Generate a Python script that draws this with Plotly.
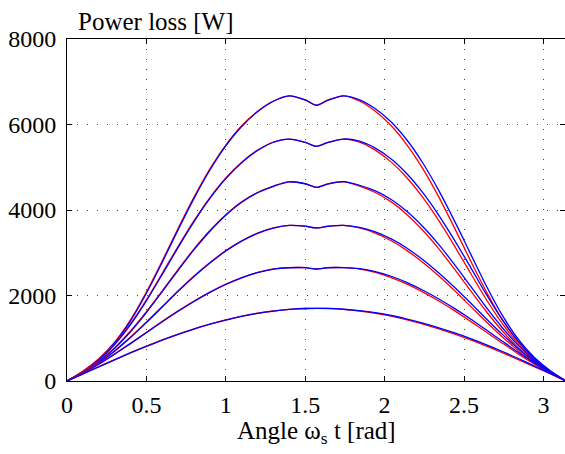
import plotly.graph_objects as go

# Sample angles over one half period [rad]
angle = [0.0, 0.1, 0.2, 0.3, 0.4, 0.5, 0.6, 0.7, 0.8, 0.9, 1.0, 1.1, 1.2, 1.3, 1.4, 1.5,
         1.5708,
         1.6416, 1.7416, 1.8416, 1.9416, 2.0416, 2.1416, 2.2416, 2.3416, 2.4416, 2.5416,
         2.6416, 2.7416, 2.8416, 2.9416, 3.0416, 3.1416]

# Power loss [W]: red = model, blue = simulation, one pair per load level
red_1 = [0, 230, 520, 910, 1430, 2080, 2810, 3570, 4300, 4960, 5520, 5970, 6310, 6550, 6670, 6570,
         6450,
         6570, 6670, 6550, 6310, 5970, 5520, 4960, 4300, 3570, 2810, 2080, 1430, 910, 520, 230, 0]
blue_1 = [0, 220, 506, 892, 1407, 2052, 2780, 3540, 4272, 4936, 5500, 5954, 6298, 6543, 6670, 6575,
          6450,
          6563, 6671, 6577, 6368, 6057, 5631, 5094, 4453, 3734, 2974, 2218, 1535, 978, 554, 243, 0]

red_2 = [0, 220, 500, 870, 1340, 1900, 2520, 3150, 3750, 4290, 4750, 5120, 5400, 5590, 5660, 5580,
         5490,
         5580, 5660, 5590, 5400, 5120, 4750, 4290, 3750, 3150, 2520, 1900, 1340, 870, 500, 220, 0]
blue_2 = [0, 210, 487, 853, 1319, 1876, 2495, 3125, 3727, 4270, 4733, 5107, 5391, 5585, 5660, 5584,
          5490,
          5575, 5660, 5610, 5447, 5192, 4841, 4400, 3875, 3285, 2658, 2018, 1433, 933, 533, 233, 0]

red_3 = [0, 210, 460, 780, 1170, 1620, 2110, 2610, 3090, 3520, 3890, 4190, 4410, 4560, 4660, 4610,
         4530,
         4610, 4660, 4560, 4410, 4190, 3890, 3520, 3090, 2610, 2110, 1620, 1170, 780, 460, 210, 0]
blue_3 = [0, 201, 449, 766, 1153, 1601, 2090, 2590, 3072, 3504, 3877, 4180, 4403, 4555, 4659, 4614,
          4530,
          4606, 4663, 4579, 4447, 4247, 3964, 3608, 3190, 2718, 2219, 1714, 1246, 833, 489, 222, 0]

red_4 = [0, 200, 430, 710, 1030, 1380, 1745, 2110, 2455, 2770, 3050, 3280, 3460, 3580, 3640, 3620,
         3580,
         3620, 3640, 3580, 3460, 3280, 3050, 2770, 2455, 2110, 1745, 1380, 1030, 710, 430, 200, 0]
blue_4 = [0, 191, 420, 698, 1017, 1366, 1730, 2096, 2442, 2758, 3040, 3272, 3454, 3576, 3639, 3622,
          3580,
          3618, 3642, 3594, 3490, 3325, 3106, 2835, 2528, 2188, 1825, 1452, 1090, 755, 456, 211, 0]

red_5 = [0, 190, 400, 635, 885, 1140, 1395, 1640, 1870, 2080, 2265, 2420, 2540, 2620, 2650, 2650,
         2620,
         2650, 2650, 2620, 2540, 2420, 2265, 2080, 1870, 1640, 1395, 1140, 885, 635, 400, 190, 0]
blue_5 = [0, 182, 391, 625, 875, 1130, 1385, 1630, 1861, 2072, 2258, 2414, 2536, 2618, 2649, 2651,
          2620,
          2649, 2652, 2628, 2560, 2450, 2302, 2123, 1918, 1692, 1450, 1191, 930, 671, 422, 200, 0]

red_6 = [0, 170, 338, 502, 662, 815, 960, 1095, 1219, 1332, 1430, 1515, 1585, 1638, 1675, 1696,
         1700,
         1696, 1675, 1638, 1585, 1515, 1430, 1332, 1219, 1095, 960, 815, 662, 502, 338, 170, 0]
blue_6 = [0, 163, 331, 496, 656, 809, 954, 1090, 1214, 1328, 1426, 1512, 1583, 1636, 1674, 1696,
          1700,
          1697, 1678, 1645, 1597, 1532, 1450, 1355, 1245, 1124, 991, 845, 690, 526, 355, 178, 0]

red_series = [red_1, red_2, red_3, red_4, red_5, red_6]
blue_series = [blue_1, blue_2, blue_3, blue_4, blue_5, blue_6]

x_ticks = [0, 0.5, 1, 1.5, 2, 2.5, 3]
x_tick_text = ["0", "0.5", "1", "1.5", "2", "2.5", "3"]
y_ticks = [0, 2000, 4000, 6000, 8000]
y_tick_text = ["0", "2000", "4000", "6000", "8000"]

SERIF = "Times New Roman, Liberation Serif, DejaVu Serif, serif"

fig = go.Figure()
for r, b in zip(red_series, blue_series):
    fig.add_trace(go.Scatter(
        x=angle, y=r, mode="lines", showlegend=False, hoverinfo="skip",
        line=dict(color="#ff0000", width=1.3, shape="spline", smoothing=0.8)))
    fig.add_trace(go.Scatter(
        x=angle, y=b, mode="lines", showlegend=False, hoverinfo="skip",
        line=dict(color="#0000ff", width=1.3, shape="spline", smoothing=0.8)))

axis_common = dict(
    showline=True, linecolor="black", linewidth=1, mirror="ticks",
    ticks="inside", ticklen=5, tickwidth=1, tickcolor="black",
    showgrid=True, gridcolor="#444444", gridwidth=1, griddash="1px,9px",
    zeroline=False,
    tickfont=dict(family=SERIF, size=24, color="black"),
)

fig.update_layout(
    width=565, height=454,
    margin=dict(l=67, r=0, t=39, b=73),
    paper_bgcolor="white", plot_bgcolor="white",
    font=dict(family=SERIF, size=24, color="black"),
    xaxis=dict(range=[0, 3.136], tickvals=x_ticks, ticktext=x_tick_text,
               ticklabelstandoff=2, **axis_common),
    yaxis=dict(range=[0, 8000], tickvals=y_ticks, ticktext=y_tick_text,
               ticklabelstandoff=5, **axis_common),
    annotations=[
        dict(text="Power loss [W]", xref="paper", yref="paper", x=0.018, y=1,
             xanchor="left", yanchor="bottom", yshift=2, showarrow=False,
             font=dict(family=SERIF, size=25, color="black")),
        dict(text="Angle ω<sub>s</sub> t [rad]", xref="paper", yref="paper", x=0.5, y=0,
             xanchor="center", yanchor="top", yshift=-34, showarrow=False,
             font=dict(family=SERIF, size=25, color="black")),
    ],
)

fig.write_html("out.html")
